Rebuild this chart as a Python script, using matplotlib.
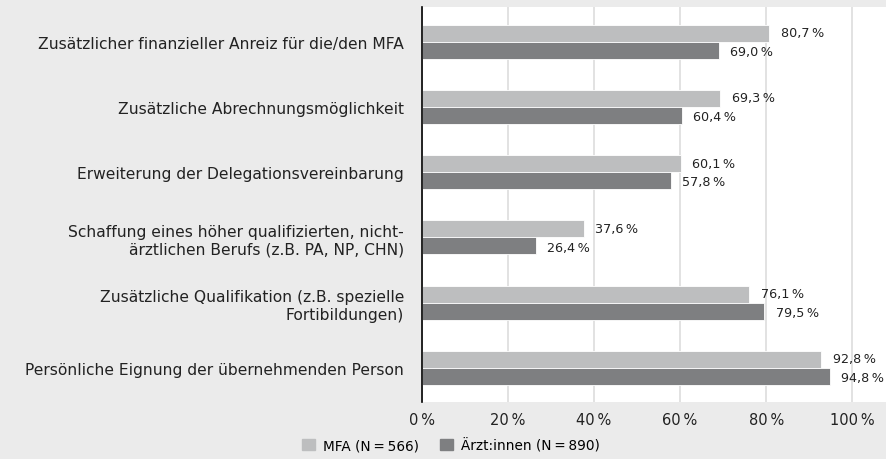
import numpy as np
import matplotlib.pyplot as plt
from matplotlib.patches import Patch

# Data
categories = [
    "Zusätzlicher finanzieller Anreiz für die/den MFA",
    "Zusätzliche Abrechnungsmöglichkeit",
    "Erweiterung der Delegationsvereinbarung",
    "Schaffung eines höher qualifizierten, nicht-\närztlichen Berufs (z.B. PA, NP, CHN)",
    "Zusätzliche Qualifikation (z.B. spezielle\nFortibildungen)",
    "Persönliche Eignung der übernehmenden Person",
]
mfa = [80.7, 69.3, 60.1, 37.6, 76.1, 92.8]
aerzte = [69.0, 60.4, 57.8, 26.4, 79.5, 94.8]
series_names = ["MFA (N\u2009=\u2009566)", "Ärzt:innen (N\u2009=\u2009890)"]
xticks = [0, 20, 40, 60, 80, 100]

light = "#bdbebf"
dark = "#7e7f81"
bg = "#ebebeb"

plt.rcParams['font.family'] = ['DejaVu Sans']

fig = plt.figure(figsize=(8.87, 4.6), dpi=100, facecolor=bg)
ax = fig.add_axes([422 / 887, 1 - 403 / 460, 1 - 422 / 887, 395 / 460])
ax.set_facecolor("white")

y = np.arange(len(categories))
h = 0.26
ax.barh(y - h / 2, mfa, height=h, color=light, edgecolor="white", linewidth=0.6, zorder=3)
ax.barh(y + h / 2, aerzte, height=h, color=dark, edgecolor="white", linewidth=0.6, zorder=3)

def fmt(v):
    return f"{v:.1f}".replace(".", ",") + "\u2009%"

for yi, v in zip(y, mfa):
    ax.text(v + 2.7, yi - h / 2 - 0.01, fmt(v), va="center", ha="left", fontsize=9.2, color="#222222")
for yi, v in zip(y, aerzte):
    ax.text(v + 2.7, yi + h / 2 + 0.02, fmt(v), va="center", ha="left", fontsize=9.2, color="#222222")

ax.set_xlim(0, 108.1)
ax.set_ylim(5.52, -0.53)
ax.set_xticks(xticks)
ax.set_xticklabels([f"{t}\u2009%" for t in xticks], fontsize=10.5, color="#222222")
ax.set_yticks(y)
ax.set_yticklabels(categories, fontsize=11.2, color="#222222", linespacing=1.25)
ax.tick_params(axis="y", length=0, pad=13)
ax.tick_params(axis="x", length=0, pad=7)
ax.grid(axis="x", color="#dddddd", linewidth=1.2, zorder=0)

for s in ["top", "right", "bottom"]:
    ax.spines[s].set_visible(False)
ax.spines["left"].set_color("black")
ax.spines["left"].set_linewidth(1.2)
ax.spines["left"].set_zorder(4)

handles = [Patch(color=light), Patch(color=dark)]
fig.legend(handles, series_names, loc="center", bbox_to_anchor=(451 / 887, 1 - 446 / 460),
           ncol=2, frameon=False, fontsize=9.8, handlelength=0.9, handleheight=0.9,
           columnspacing=1.6, handletextpad=0.6)

fig.savefig("out.png", dpi=100, facecolor=bg)
